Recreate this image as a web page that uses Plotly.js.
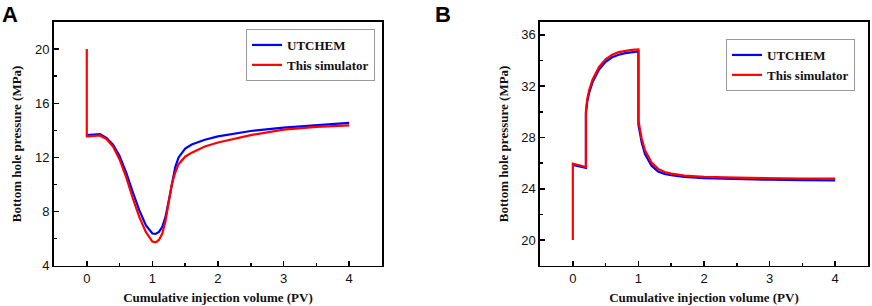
<!DOCTYPE html>
<html>
<head>
<meta charset="utf-8">
<script src="https://cdn.plot.ly/plotly-3.0.1.min.js"></script>
<style>html,body{margin:0;padding:0;background:#fff;}#chart{width:872px;height:306px;}</style>
</head>
<body>
<div id="chart"></div>
<script>
// Panel A data
const aUtchemX = [0, 0.1, 0.2, 0.3, 0.4, 0.5, 0.6, 0.7, 0.8, 0.9, 1.0, 1.05, 1.1, 1.15, 1.2, 1.25, 1.3, 1.35, 1.4, 1.5, 1.6, 1.8, 2.0, 2.5, 3.0, 3.5, 4.0];
const aUtchemY = [13.65, 13.68, 13.72, 13.45, 12.95, 12.1, 10.9, 9.45, 8.1, 7.0, 6.38, 6.35, 6.5, 6.85, 7.6, 8.8, 10.2, 11.3, 12.0, 12.65, 12.95, 13.3, 13.55, 13.95, 14.2, 14.4, 14.55];
const aSimX = [0, 0, 0.02, 0.1, 0.2, 0.3, 0.4, 0.5, 0.6, 0.7, 0.8, 0.9, 1.0, 1.05, 1.1, 1.15, 1.2, 1.25, 1.3, 1.35, 1.4, 1.5, 1.6, 1.8, 2.0, 2.5, 3.0, 3.5, 4.0];
const aSimY = [20.0, 13.55, 13.55, 13.58, 13.62, 13.35, 12.8, 11.85, 10.55, 9.0, 7.6, 6.5, 5.78, 5.72, 5.9, 6.35, 7.3, 8.7, 10.1, 10.9, 11.5, 12.05, 12.35, 12.8, 13.1, 13.65, 14.05, 14.25, 14.37];

// Panel B data
const bUtchemX = [0, 0.2, 0.2, 0.22, 0.25, 0.3, 0.4, 0.5, 0.6, 0.7, 0.8, 0.9, 1.0, 1.0, 1.05, 1.1, 1.2, 1.3, 1.4, 1.5, 1.7, 2.0, 2.5, 3.0, 3.5, 4.0];
const bUtchemY = [25.85, 25.62, 29.9, 30.8, 31.5, 32.3, 33.3, 33.9, 34.25, 34.45, 34.58, 34.65, 34.7, 29.0, 27.6, 26.7, 25.8, 25.35, 25.15, 25.05, 24.93, 24.83, 24.75, 24.7, 24.68, 24.66];
const bSimX = [0, 0, 0.2, 0.2, 0.22, 0.25, 0.3, 0.4, 0.5, 0.6, 0.7, 0.8, 0.9, 1.0, 1.0, 1.05, 1.1, 1.2, 1.3, 1.4, 1.5, 1.7, 2.0, 2.5, 3.0, 3.5, 4.0];
const bSimY = [20.0, 25.95, 25.7, 30.1, 31.0, 31.7, 32.5, 33.5, 34.1, 34.45, 34.65, 34.77, 34.83, 34.87, 29.3, 27.9, 27.0, 26.05, 25.55, 25.3, 25.18, 25.03, 24.93, 24.86, 24.82, 24.8, 24.8];

// Labels
const seriesNames = ["UTCHEM", "This simulator"];
const xTitle = "Cumulative injection volume (PV)";
const yTitle = "Bottom hole pressure (MPa)";
const panelLabels = ["A", "B"];

const blue = "#0000ff", red = "#ff0000";
const serif = "Liberation Serif, Times New Roman, serif";
const sans = "Liberation Sans, Arial, sans-serif";

const traces = [
  {x: aUtchemX, y: aUtchemY, name: seriesNames[0], mode: "lines", line: {color: blue, width: 2.2}, xaxis: "x", yaxis: "y", legend: "legend"},
  {x: aSimX, y: aSimY, name: seriesNames[1], mode: "lines", line: {color: red, width: 2.2}, xaxis: "x", yaxis: "y", legend: "legend"},
  {x: bUtchemX, y: bUtchemY, name: seriesNames[0], mode: "lines", line: {color: blue, width: 2.2}, xaxis: "x2", yaxis: "y2", legend: "legend2"},
  {x: bSimX, y: bSimY, name: seriesNames[1], mode: "lines", line: {color: red, width: 2.2}, xaxis: "x2", yaxis: "y2", legend: "legend2"}
];

function xAxis(domain, anchor) {
  return {
    domain: domain, anchor: anchor, range: [-0.5, 4.5], dtick: 1, tick0: 0,
    ticks: "inside", ticklen: 5, tickwidth: 1.5, tickcolor: "#000",
    minor: {dtick: 0.5, ticks: "inside", ticklen: 3, tickwidth: 1.5, tickcolor: "#000"},
    showline: true, linecolor: "#000", linewidth: 1.8, mirror: true,
    showgrid: false, zeroline: false,
    tickfont: {family: sans, size: 13, color: "#111"},
    title: {text: xTitle, font: {family: serif, size: 13, color: "#111", weight: "bold"}, standoff: 8}
  };
}
function yAxis(range, dtick, anchor) {
  return {
    domain: [0.1317, 0.928], anchor: anchor, range: range, dtick: dtick, tick0: 0,
    ticks: "inside", ticklen: 5, tickwidth: 1.5, tickcolor: "#000",
    minor: {dtick: dtick / 2, ticks: "inside", ticklen: 3, tickwidth: 1.5, tickcolor: "#000"},
    showline: true, linecolor: "#000", linewidth: 1.8, mirror: true,
    showgrid: false, zeroline: false,
    tickfont: {family: sans, size: 13, color: "#111"},
    title: {text: yTitle, font: {family: serif, size: 13, color: "#111", weight: "bold"}, standoff: 10}
  };
}

const legendStyle = {
  xref: "paper", yref: "paper", xanchor: "left", yanchor: "top",
  bgcolor: "#fff", bordercolor: "#999", borderwidth: 1,
  font: {family: serif, size: 13, color: "#111", weight: "bold"},
  tracegroupgap: 0, itemwidth: 30
};

const layout = {
  width: 872, height: 306,
  margin: {l: 0, r: 0, t: 0, b: 0},
  paper_bgcolor: "#fff", plot_bgcolor: "#fff",
  showlegend: true,
  xaxis: xAxis([0.0619, 0.438], "y"),
  yaxis: yAxis([4, 22], 4, "x"),
  xaxis2: xAxis([0.6193, 0.9954], "y2"),
  yaxis2: yAxis([18, 37], 4, "x2"),
  legend: Object.assign({x: 246 / 872, y: 1 - 29 / 306}, legendStyle),
  legend2: Object.assign({x: 726 / 872, y: 1 - 39 / 306}, legendStyle),
  annotations: [
    {text: "<b>" + panelLabels[0] + "</b>", xref: "paper", yref: "paper", x: 0, y: 1, xanchor: "left", yanchor: "top", showarrow: false, font: {family: sans, size: 22, color: "#000"}},
    {text: "<b>" + panelLabels[1] + "</b>", xref: "paper", yref: "paper", x: 433 / 872, y: 1, xanchor: "left", yanchor: "top", showarrow: false, font: {family: sans, size: 22, color: "#000"}}
  ]
};

Plotly.newPlot("chart", traces, layout, {displayModeBar: false, staticPlot: true});
</script>
</body>
</html>
